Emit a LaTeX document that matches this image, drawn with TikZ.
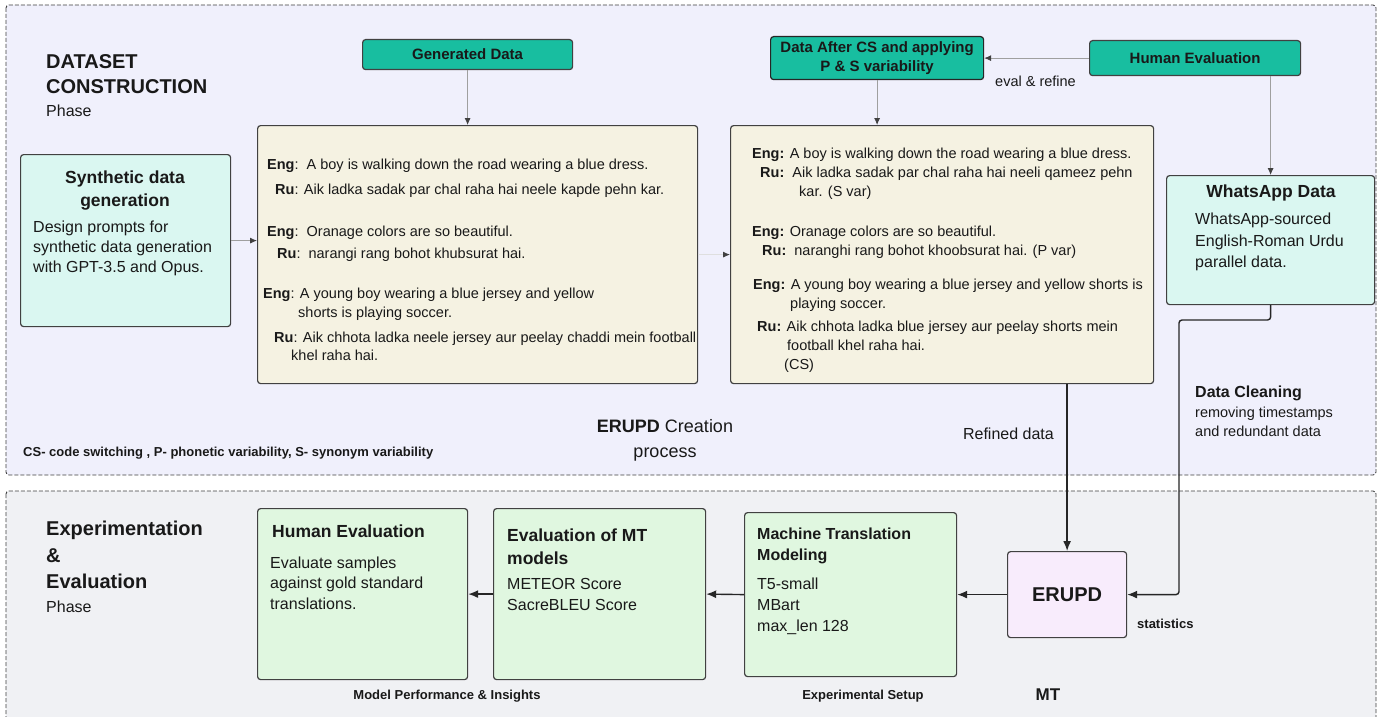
\documentclass[tikz,border=0pt]{standalone}
\usepackage{fontspec}
\setmainfont{Liberation Sans}
\usetikzlibrary{arrows.meta}
\newcommand\myfs[1]{\fontsize{#1}{#1}\selectfont}
\definecolor{topbg}{RGB}{240,240,252}
\definecolor{botbg}{RGB}{240,241,244}
\definecolor{teal1}{RGB}{24,190,160}
\definecolor{cyanl}{RGB}{218,247,241}
\definecolor{yell}{RGB}{245,242,226}
\definecolor{greenl}{RGB}{224,247,224}
\definecolor{pinkl}{RGB}{248,236,252}
\definecolor{bord}{RGB}{65,65,65}
\definecolor{txt}{RGB}{25,25,25}
\tikzset{
  box/.style={draw=bord, line width=1.2pt, rounded corners=3pt, anchor=north west, inner sep=0pt},
  tealbox/.style={box, fill=teal1, font=\fontsize{15}{19}\selectfont\bfseries, text=txt, align=center},
  tl/.style={anchor=base west, inner sep=0pt, text=txt},
  tc/.style={anchor=base, inner sep=0pt, text=txt},
  gconn/.style={draw=gray!75, line width=0.8pt, -{Latex[length=7pt,width=6pt,color=darkgray]}},
  fconn/.style={draw=gray!25, line width=0.8pt, -{Latex[length=7pt,width=6pt,color=darkgray]}},
  bconn/.style={draw=black!85, line width=1.4pt, -{Latex[length=10pt,width=8pt]}},
  phasebox/.style={draw=black!75, line width=0.9pt, dash pattern=on 4pt off 2pt, rounded corners=3pt},
}
\begin{document}
\begin{tikzpicture}[x=1pt,y=-1pt]
\useasboundingbox (0,0) rectangle (1382,717);
\fill[white] (0,0) rectangle (1382,717);
% phase areas
\draw[phasebox, fill=topbg] (6,5) rectangle (1376,475);
\draw[phasebox, fill=botbg] (6,491) rectangle (1376,730);

% ---- top phase titles
\node[tl, font=\myfs{20}\bfseries] (dsA) at (46,69) {DATASET};
\node[tl, font=\myfs{20}\bfseries] (dsB) at (46,94) {CONSTRUCTION};
\node[tl, font=\myfs{16}] (dsC) at (46,117) {Phase};

% ---- teal boxes
\node[tealbox, minimum width=210pt, minimum height=30pt] (gen) at (362,39) {Generated Data};
\node[tealbox, draw=black!85, minimum width=213pt, minimum height=43pt] (dacs) at (770,36) {Data After CS and applying\\P \& S variability};
\node[tealbox, minimum width=211pt, minimum height=35pt] (heval) at (1089,40) {Human Evaluation};
\node[tl, font=\myfs{14.5}] (evr) at (995,86) {eval \& refine};

% ---- synthetic box
\node[box, fill=cyanl, minimum width=210pt, minimum height=172pt] (syn) at (20,154) {};
\node[tc, font=\myfs{17.5}\bfseries] (synA) at (125,183) {Synthetic data};
\node[tc, font=\myfs{17.5}\bfseries] (synB) at (125,206) {generation};
\node[tl, font=\myfs{16}] (synC) at (33,232) {Design prompts for};
\node[tl, font=\myfs{16}] (synD) at (33,252) {synthetic data generation};
\node[tl, font=\myfs{16}] (synE) at (33,272) {with GPT-3.5 and Opus.};

% ---- left yellow box
\node[box, fill=yell, minimum width=440pt, minimum height=258pt] (ly) at (257,125) {};
\begin{scope}[every node/.style={tl, font=\myfs{14.5}}]
\node (l1) at (267,169) {\textbf{Eng}:\ \ A boy is walking down the road wearing a blue dress.};
\node (l2) at (275,194) {\textbf{Ru}: Aik ladka sadak par chal raha hai neele kapde pehn kar.};
\node (l3) at (267,236) {\textbf{Eng}:\ \ Oranage colors are so beautiful.};
\node (l4) at (277,258) {\textbf{Ru}:\ \ narangi rang bohot khubsurat hai.};
\node (l5) at (263,298) {\textbf{Eng}: A young boy wearing a blue jersey and yellow};
\node (l6) at (298,317) {shorts is playing soccer.};
\node (l7) at (274,342) {\textbf{Ru}: Aik chhota ladka neele jersey aur peelay chaddi mein football};
\node (l8) at (291,360) {khel raha hai.};
\end{scope}

% ---- right yellow box
\node[box, fill=yell, minimum width=423pt, minimum height=258pt] (ry) at (730,125) {};
\begin{scope}[every node/.style={tl, font=\myfs{14.5}}]
\node (r1) at (752,158) {\textbf{Eng:} A boy is walking down the road wearing a blue dress.};
\node (r2) at (760,177) {\textbf{Ru:}\ \ Aik ladka sadak par chal raha hai neeli qameez pehn};
\node (r3) at (799,196) {kar. (S var)};
\node (r4) at (752,236) {\textbf{Eng:} Oranage colors are so beautiful.};
\node (r5) at (762,255) {\textbf{Ru:}\ \ naranghi rang bohot khoobsurat hai. (P var)};
\node (r6) at (753,289) {\textbf{Eng:} A young boy wearing a blue jersey and yellow shorts is};
\node (r7) at (790,308) {playing soccer.};
\node (r8) at (757,331) {\textbf{Ru:} Aik chhota ladka blue jersey aur peelay shorts mein};
\node (r9) at (787,350) {football khel raha hai.};
\node (r10) at (784,369) {(CS)};
\end{scope}

% ---- WhatsApp box
\node[box, fill=cyanl, minimum width=208pt, minimum height=129pt] (wa) at (1166,175) {};
\node[tc, font=\myfs{17.5}\bfseries] (waA) at (1271,197) {WhatsApp Data};
\node[tl, font=\myfs{16}] (waB) at (1195,224) {WhatsApp-sourced};
\node[tl, font=\myfs{16}] (waC) at (1195,246) {English-Roman Urdu};
\node[tl, font=\myfs{16}] (waD) at (1195,267) {parallel data.};

% ---- misc top labels
\node[tc, font=\myfs{18}] (crA) at (665,432) {\textbf{ERUPD} Creation};
\node[tc, font=\myfs{18}] (crB) at (665,457) {process};
\node[tl, font=\myfs{13}\bfseries] (csl) at (23,456) {CS- code switching , P- phonetic variability, S- synonym variability};
\node[anchor=base east, inner sep=0pt, text=txt, font=\myfs{16}] (refd) at (1054,439) {Refined data};
\node[tl, font=\myfs{16}\bfseries] (dcA) at (1195,397) {Data Cleaning};
\node[tl, font=\myfs{14.5}] (dcB) at (1195,417) {removing timestamps};
\node[tl, font=\myfs{14.5}] (dcC) at (1195,436) {and redundant data};

% ---- bottom phase titles
\node[tl, font=\myfs{20}\bfseries] (exA) at (46,535) {Experimentation};
\node[tl, font=\myfs{20}\bfseries] (exB) at (46,562) {\&};
\node[tl, font=\myfs{20}\bfseries] (exC) at (46,588) {Evaluation};
\node[tl, font=\myfs{16}] (exD) at (46,612) {Phase};

% ---- bottom boxes
\node[box, fill=greenl, minimum width=210pt, minimum height=171pt] (he2) at (257,508) {};
\node[tl, font=\myfs{17.5}\bfseries] (heA) at (272,537) {Human Evaluation};
\node[tl, font=\myfs{16}] (heB) at (270,568) {Evaluate samples};
\node[tl, font=\myfs{16}] (heC) at (270,588) {against gold standard};
\node[tl, font=\myfs{16}] (heD) at (270,609) {translations.};

\node[box, fill=greenl, minimum width=212pt, minimum height=171pt] (evmt) at (493,508) {};
\node[tl, font=\myfs{17.5}\bfseries] (emA) at (507,541) {Evaluation of MT};
\node[tl, font=\myfs{17.5}\bfseries] (emB) at (507,564) {models};
\node[tl, font=\myfs{16}] (emC) at (507,589) {METEOR Score};
\node[tl, font=\myfs{16}] (emD) at (507,610) {SacreBLEU Score};

\node[box, fill=greenl, minimum width=212pt, minimum height=164pt] (mtm) at (744,512) {};
\node[tl, font=\myfs{16}\bfseries] (mtA) at (757,539) {Machine Translation};
\node[tl, font=\myfs{16}\bfseries] (mtB) at (757,560) {Modeling};
\node[tl, font=\myfs{16}] (mtC) at (757,589) {T5-small};
\node[tl, font=\myfs{16}] (mtD) at (757,610) {MBart};
\node[tl, font=\myfs{16}] (mtE) at (757,631) {max\_len 128};

\node[box, fill=pinkl, minimum width=119pt, minimum height=86pt, font=\myfs{20}\bfseries, text=txt] (erupd) at (1007,551) {ERUPD};
\node[tl, font=\myfs{13}\bfseries] (stat) at (1137,628) {statistics};

\node[tc, font=\myfs{13}\bfseries] (mpi) at (447,699) {Model Performance \& Insights};
\node[tc, font=\myfs{13}\bfseries] (exs) at (863,699) {Experimental Setup};
\node[tc, font=\myfs{17}\bfseries] (mtl) at (1048,700) {MT};

% ---- connectors (top)
\draw[gconn] (gen.south) -- (gen.south |- ly.north);
\draw[gconn] (dacs.south) -- (dacs.south |- ry.north);
\draw[gconn] (heval.west) -- (dacs.east);
\draw[gconn] (heval.south -| wa.north) -- (wa.north);
\draw[gconn] (syn.east) -- (syn.east -| ly.west);
\draw[fconn] (ly.east) -- (ry.west);

% ---- connectors (bottom)
\coordinate (c1) at (1179,320);
\draw[bconn] (erupd.north |- ry.south) -- (erupd.north);
\draw[bconn, rounded corners=3pt] (wa.south) -- (wa.south |- c1) -- (c1) -- (c1 |- erupd.east) -- (erupd.east);
\draw[bconn] (erupd.west) -- (mtm.east);
\draw[bconn] (mtm.west) -- (evmt.east);
\draw[bconn] (evmt.west) -- (he2.east);
\end{tikzpicture}
\end{document}
